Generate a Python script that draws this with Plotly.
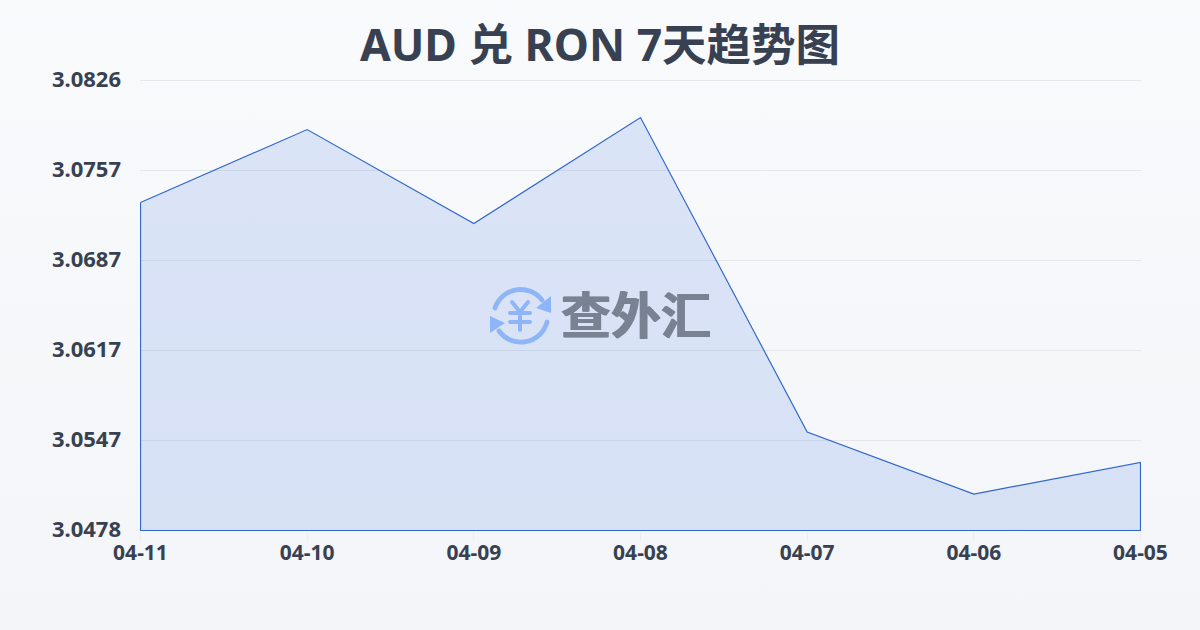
import base64
import plotly.graph_objects as go

TITLE = "AUD 兑 RON 7天趋势图"
WATERMARK = "查外汇"
dates = ["04-11", "04-10", "04-09", "04-08", "04-07", "04-06", "04-05"]
rates = [3.07312, 3.07877, 3.0715, 3.0797, 3.05538, 3.05058, 3.05302]
y_ticks = [3.0826, 3.07564, 3.06868, 3.06172, 3.05476, 3.0478]
y_labels = ["3.0826", "3.0757", "3.0687", "3.0617", "3.0547", "3.0478"]
y_top = 3.082755
y_low = 3.047723
y_base = 3.04776

W, H = 1200, 630
L, R, T, B = 140, 59, 78, 99
FONT = "Noto Sans, Noto Sans CJK SC, sans-serif"

xs = dates + [dates[-1], dates[0], dates[0]]
ys = rates + [y_base, y_base, rates[0]]

fig = go.Figure(go.Scatter(
    x=xs, y=ys, mode="lines", fill="toself",
    line=dict(color="#2f66cc", width=1.15),
    fillgradient=dict(type="vertical",
                      colorscale=[[0, "rgba(53,108,223,0.15)"], [1, "rgba(53,108,223,0.15)"]]),
    cliponaxis=False, hoverinfo="skip", showlegend=False,
))

logo = """<svg xmlns='http://www.w3.org/2000/svg' viewBox='0 0 64 64' width='64' height='64'>
<g fill='none' stroke='#8db5f7' stroke-width='4.8' stroke-linecap='round'>
<path d='M6 24 A27 27 0 0 1 53 16'/>
<path d='M58 38 A27 27 0 0 1 10 47'/>
<path d='M23 18 L31 28 L39 18 M21 29 H41 M21 38 H41 M31 28 V46' stroke-width='4'/>
</g>
<path d='M62 12 L62 29 L47 24 Z M1 32 L1 49 L16 39 Z' fill='#8db5f7'/>
</svg>"""
logo_uri = "data:image/svg+xml;base64," + base64.b64encode(logo.encode()).decode()

PW, PH = W - L - R, H - T - B

fig.update_layout(
    width=W, height=H,
    margin=dict(l=L, r=R, t=T, b=B),
    paper_bgcolor="rgba(0,0,0,0)",
    plot_bgcolor="rgba(0,0,0,0)",
    font=dict(family=FONT, color="#374151"),
    title=dict(text=f"<b>{TITLE}</b>", x=0.5, xanchor="center",
               y=1 - 45 / H, yanchor="middle",
               font=dict(size=44.5, color="#374151", family=FONT)),
    xaxis=dict(type="category", categoryorder="array", categoryarray=dates,
               range=[-0.003, 6.003], showgrid=False, zeroline=False, showline=False,
               ticks="outside", ticklen=9, tickwidth=1, tickcolor="#eceef1",
               tickfont=dict(size=21, color="#374151", family=FONT, weight="bold"),
               ticklabelstandoff=-6),
    yaxis=dict(range=[y_low, y_top], tickmode="array",
               tickvals=y_ticks, ticktext=y_labels,
               showgrid=True, gridcolor="#e5e7eb", gridwidth=1,
               zeroline=False, showline=False, ticks="",
               tickfont=dict(size=22, color="#374151", family=FONT, weight="bold"),
               ticklabelstandoff=18, ticklabelshift=-1),
    images=[dict(source=logo_uri, xref="paper", yref="paper",
                 x=(489 - L) / PW, y=1 - (284 - T) / PH,
                 sizex=64 / PW, sizey=64 / PH,
                 xanchor="left", yanchor="top", sizing="stretch", layer="above")],
    annotations=[dict(text=f"<b>{WATERMARK}</b>", xref="paper", yref="paper",
                      x=(636 - L) / PW, y=1 - (312 - T) / PH,
                      xanchor="center", yanchor="middle", showarrow=False,
                      font=dict(size=50, color="#798292",
                                family="Noto Sans CJK SC",
                                shadow="0.7px 0 0 #798292, -0.7px 0 0 #798292"))],
)

post = ("document.documentElement.style.background="
        "'linear-gradient(180deg,#f9fafc 0%,#f3f5f8 100%)';"
        "document.body.style.background='transparent';"
        "document.body.style.margin='0';")
fig.write_html("out.html", post_script=post, config=dict(displayModeBar=False))
